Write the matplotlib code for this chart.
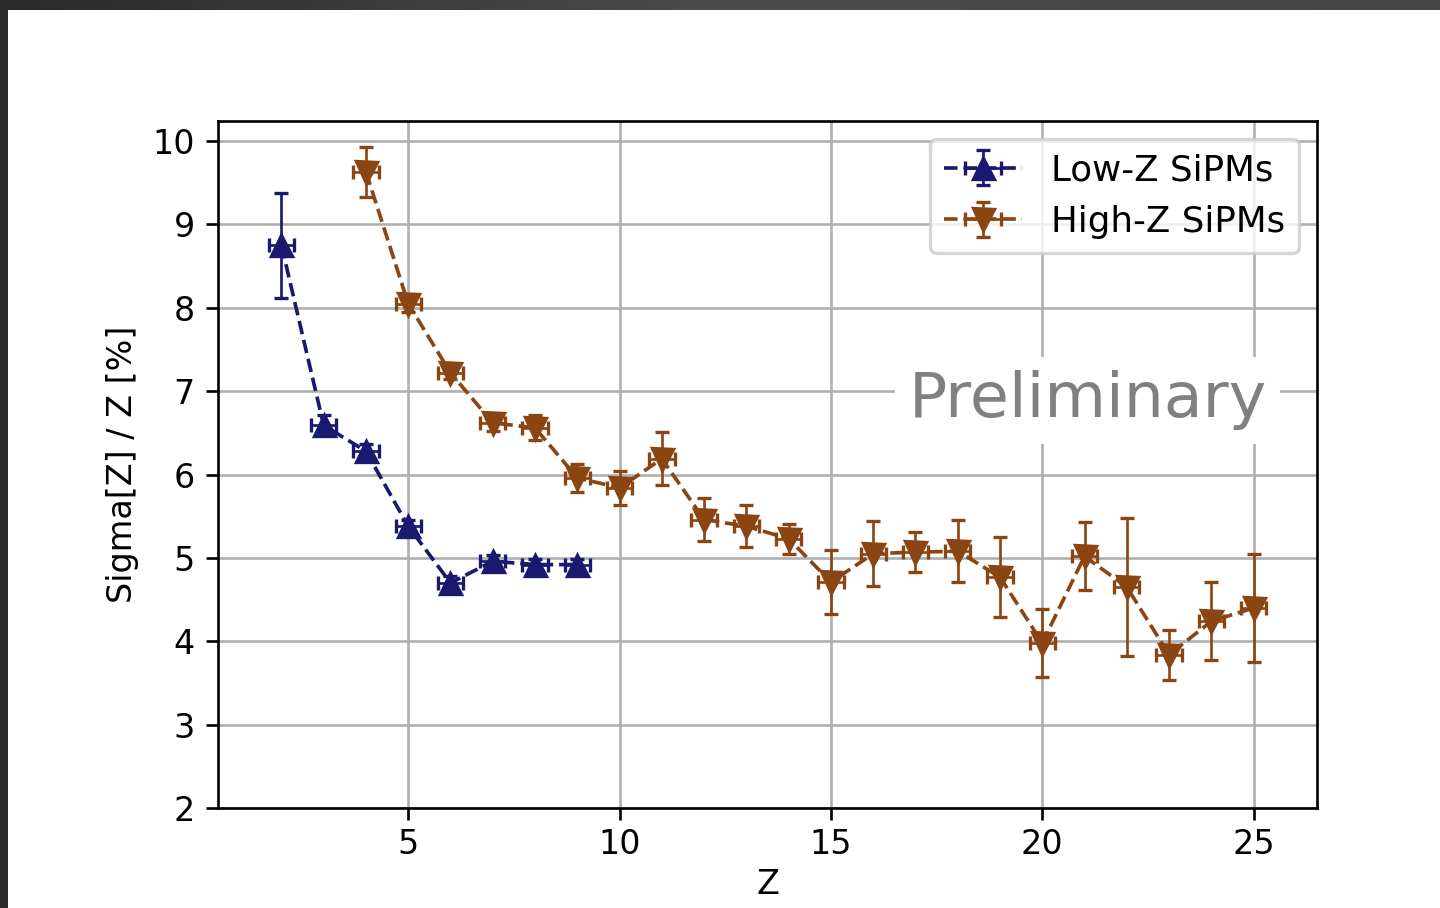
import numpy as np
import matplotlib
matplotlib.use("Agg")
import matplotlib.pyplot as plt
from matplotlib.patches import Rectangle
from matplotlib.colors import LinearSegmentedColormap

# Low-Z SiPMs
z_low = [2, 3, 4, 5, 6, 7, 8, 9]
res_low = [8.75, 6.59, 6.28, 5.38, 4.70, 4.96, 4.92, 4.92]
err_low = [0.63, 0.12, 0.09, 0.08, 0.08, 0.07, 0.07, 0.07]

# High-Z SiPMs
z_high = [4, 5, 6, 7, 8, 9, 10, 11, 12, 13, 14, 15, 16, 17, 18, 19, 20, 21, 22, 23, 24, 25]
res_high = [9.63, 8.05, 7.22, 6.62, 6.56, 5.96, 5.84, 6.19, 5.46, 5.38, 5.23, 4.71,
            5.05, 5.07, 5.08, 4.77, 3.98, 5.02, 4.65, 3.84, 4.24, 4.40]
err_high = [0.30, 0.10, 0.08, 0.10, 0.15, 0.17, 0.20, 0.32, 0.26, 0.25, 0.18, 0.38,
            0.39, 0.24, 0.37, 0.48, 0.41, 0.41, 0.83, 0.30, 0.47, 0.65]
z_width = 0.3

fig = plt.figure(figsize=(6, 908 / 240), dpi=240)
ax = fig.add_axes([0.1514, 0.1101, 0.7632, 0.7566])

ax.errorbar(z_low, res_low, yerr=err_low, xerr=z_width, fmt='^--', color='midnightblue',
            ecolor='midnightblue', elinewidth=0.8, capsize=2.2, lw=1.1, ms=6.3,
            label='Low-Z SiPMs')
ax.errorbar(z_high, res_high, yerr=err_high, xerr=z_width, fmt='v--', color='saddlebrown',
            ecolor='saddlebrown', elinewidth=0.8, capsize=2.2, lw=1.1, ms=6.3,
            label='High-Z SiPMs')

ax.set_xlim(0.5, 26.5)
ax.set_ylim(2, 10.24)
ax.set_xticks([5, 10, 15, 20, 25])
ax.set_yticks(range(2, 11))
ax.tick_params(axis='x', pad=2.5)
ax.grid(True)
ax.set_xlabel('Z', labelpad=2)
ax.set_ylabel('Sigma[Z] / Z [%]')
ax.legend(loc='upper right', fontsize=10.7, handlelength=2.2)

ax.text(21.08, 6.89, 'Preliminary', fontsize=19, color='gray', ha='center', va='center',
        bbox=dict(facecolor='white', edgecolor='none', pad=4))

# dark screenshot border on top and left
border = LinearSegmentedColormap.from_list('border', ['#2a2a2a', '#4b4b4b', '#454545'])
grad = np.linspace(0, 1, 256)[None, :]
strip = fig.add_axes([0, 1 - 10 / 908, 1, 10 / 908])
strip.imshow(grad, aspect='auto', cmap=border, extent=[0, 1, 0, 1])
strip.axis('off')
fig.patches.append(Rectangle((0, 0), 8 / 1440, 1, transform=fig.transFigure,
                             facecolor='#2b2b2b', edgecolor='none', zorder=10))

fig.savefig('out.png', dpi=240)
